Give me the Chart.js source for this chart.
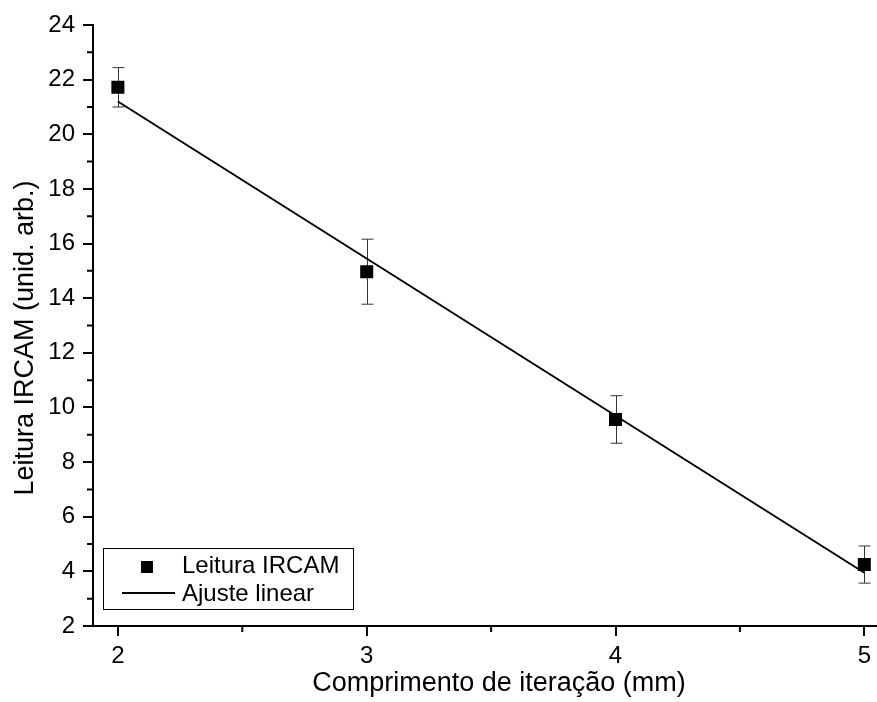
<!DOCTYPE html>
<html>
<head>
<meta charset="utf-8">
<script src="https://cdn.jsdelivr.net/npm/chart.js@4.4.0/dist/chart.umd.min.js"></script>
<style>
  html, body { margin: 0; padding: 0; background: #fff; }
  #wrap { width: 877px; height: 702px; }
</style>
</head>
<body>
<div id="wrap"><canvas id="myChart" width="877" height="702"></canvas></div>
<script>
// values
var xValues = [2, 3, 4, 5];
var yValues = [21.72, 14.97, 9.56, 4.25];
var yErrors = [0.72, 1.19, 0.87, 0.68];
var fitX = [2, 5];
var fitY = [21.2, 3.95];
var xTicks = [2, 3, 4, 5];
var xMinorTicks = [2.5, 3.5, 4.5];
var yMinorTicks = [3, 5, 7, 9, 11, 13, 15, 17, 19, 21, 23];
var xTitle = 'Comprimento de iteração (mm)';
var yTitle = 'Leitura IRCAM (unid. arb.)';

var fontName = "'Liberation Sans', Arial, sans-serif";

var pointData = xValues.map(function(x, i) { return { x: x, y: yValues[i] }; });
var fitData = fitX.map(function(x, i) { return { x: x, y: fitY[i] }; });

// error bars, minor ticks, axis titles and legend
var extras = {
    id: 'extras',
    beforeDatasetsDraw: function(chart) {
        var ctx = chart.ctx;
        var xs = chart.scales.x, ys = chart.scales.y;
        ctx.save();
        ctx.strokeStyle = '#333';
        ctx.lineWidth = 1;
        for (var i = 0; i < xValues.length; i++) {
            var px = Math.round(xs.getPixelForValue(xValues[i])) + 0.5;
            var top = ys.getPixelForValue(yValues[i] + yErrors[i]);
            var bot = ys.getPixelForValue(yValues[i] - yErrors[i]);
            ctx.beginPath();
            ctx.moveTo(px, top); ctx.lineTo(px, bot);
            ctx.moveTo(px - 6, top); ctx.lineTo(px + 6, top);
            ctx.moveTo(px - 6, bot); ctx.lineTo(px + 6, bot);
            ctx.stroke();
        }
        ctx.restore();
    },
    afterDraw: function(chart) {
        var ctx = chart.ctx;
        var xs = chart.scales.x, ys = chart.scales.y;
        var area = chart.chartArea;
        ctx.save();
        ctx.strokeStyle = '#000';
        ctx.lineWidth = 2;
        ctx.beginPath();
        xMinorTicks.forEach(function(v) {
            var px = xs.getPixelForValue(v);
            ctx.moveTo(px, area.bottom); ctx.lineTo(px, area.bottom + 6);
        });
        yMinorTicks.forEach(function(v) {
            var py = ys.getPixelForValue(v);
            ctx.moveTo(area.left, py); ctx.lineTo(area.left - 6, py);
        });
        ctx.stroke();

        // axis titles
        ctx.fillStyle = '#000';
        ctx.font = '27px ' + fontName;
        ctx.textAlign = 'center';
        ctx.textBaseline = 'alphabetic';
        ctx.fillText(xTitle, 499, 691);
        ctx.save();
        ctx.translate(33, 338);
        ctx.rotate(-Math.PI / 2);
        ctx.fillText(yTitle, 0, 0);
        ctx.restore();

        // legend box
        ctx.lineWidth = 1;
        ctx.strokeRect(103.5, 548.5, 250, 61);
        ctx.fillRect(141, 561, 12, 12);
        ctx.lineWidth = 2;
        ctx.beginPath();
        ctx.moveTo(122, 593); ctx.lineTo(175, 593);
        ctx.stroke();
        ctx.font = '24px ' + fontName;
        ctx.textAlign = 'left';
        ctx.textBaseline = 'middle';
        ctx.fillText(chart.data.datasets[0].label, 182, 566);
        ctx.fillText(chart.data.datasets[1].label, 182, 594);
        ctx.restore();
    }
};

var ctx = document.getElementById('myChart').getContext('2d');
var myChart = new Chart(ctx, {
    type: 'scatter',
    data: {
        datasets: [{
            label: 'Leitura IRCAM',
            data: pointData,
            pointStyle: 'rect',
            pointRadius: 9.2,
            pointHoverRadius: 9.2,
            pointBorderWidth: 0,
            backgroundColor: '#000',
            borderColor: '#000',
            order: 2
        }, {
            type: 'line',
            label: 'Ajuste linear',
            data: fitData,
            borderColor: '#000',
            borderWidth: 2,
            pointRadius: 0,
            fill: false,
            order: 1
        }]
    },
    options: {
        responsive: false,
        animation: false,
        events: [],
        layout: { autoPadding: false, padding: { top: 25, right: 0, bottom: 0, left: 0 } },
        plugins: {
            legend: { display: false },
            tooltip: { enabled: false }
        },
        scales: {
            x: {
                type: 'linear',
                min: 1.9,
                max: 5.045,
                afterBuildTicks: function(s) {
                    s.ticks = xTicks.map(function(v) { return { value: v }; });
                },
                afterFit: function(s) { s.height = 76; },
                ticks: {
                    color: '#000',
                    font: { family: fontName, size: 24 },
                    padding: 6,
                    maxRotation: 0
                },
                grid: {
                    drawOnChartArea: false,
                    color: '#000',
                    lineWidth: 2,
                    tickLength: 10
                },
                border: { color: '#000', width: 2 }
            },
            y: {
                min: 2,
                max: 24,
                afterFit: function(s) { s.width = 93; },
                ticks: {
                    stepSize: 2,
                    color: '#000',
                    font: { family: fontName, size: 24 },
                    padding: 8
                },
                grid: {
                    drawOnChartArea: false,
                    color: '#000',
                    lineWidth: 2,
                    tickLength: 10
                },
                border: { color: '#000', width: 2 }
            }
        }
    },
    plugins: [extras]
});
</script>
</body>
</html>
